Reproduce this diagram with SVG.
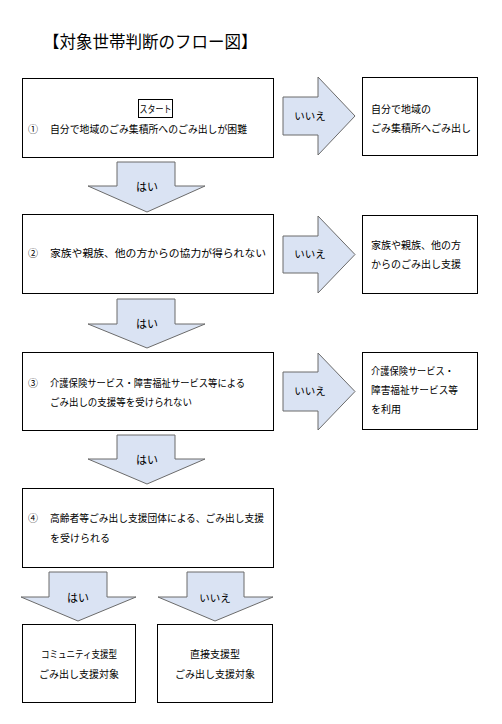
<svg xmlns="http://www.w3.org/2000/svg" width="502" height="724" viewBox="0 0 502 724">
<style>
text{font-family:"Noto Sans CJK JP","Noto Sans CJK SC",sans-serif;fill:#000;}
.t{font-size:10px;}
.c{text-anchor:middle;}
.title{font-size:16.5px;}
.box{fill:#fff;stroke:#000;stroke-width:1;}
.arr{fill:#dae3f3;stroke:#6b6b6b;stroke-width:1;}
.lab{font-size:11px;text-anchor:middle;}
.lab2{font-size:10.5px;text-anchor:middle;}
</style>
<rect width="502" height="724" fill="#fff"/>
<text class="title" x="43" y="48">【対象世帯判断のフロー図】</text>

<g id="connectors">
  <g id="arrow-no-1"><path class="arr" d="M283,97 H318 V77 L355,116 L318,155 V135 H283 Z"/><text class="lab2" x="310" y="120">いいえ</text></g>
  <g id="arrow-no-2"><path class="arr" d="M283,236 H318 V216 L355,254.5 L318,293 V273 H283 Z"/><text class="lab2" x="310" y="258">いいえ</text></g>
  <g id="arrow-no-3"><path class="arr" d="M283,372 H318 V353 L355,391.5 L318,430 V411 H283 Z"/><text class="lab2" x="310" y="395">いいえ</text></g>
  <g id="arrow-yes-1"><path class="arr" d="M117,162 H175 V186 H205 L147,212 L88,186 H117 Z"/><text class="lab" x="147" y="191">はい</text></g>
  <g id="arrow-yes-2"><path class="arr" d="M117,299 H175 V324 H205 L147,348 L88,324 H117 Z"/><text class="lab" x="147" y="328">はい</text></g>
  <g id="arrow-yes-3"><path class="arr" d="M117,435 H175 V459 H205 L147,484 L88,459 H117 Z"/><text class="lab" x="147" y="464">はい</text></g>
  <g id="arrow-yes-4"><path class="arr" d="M49,572 H107 V597 H136 L78,621 L21,597 H49 Z"/><text class="lab" x="78" y="602">はい</text></g>
  <g id="arrow-no-4"><path class="arr" d="M187,572 H244 V597 H273 L215,621 L158,597 H187 Z"/><text class="lab2" x="215" y="602">いいえ</text></g>
</g>

<g id="node-q1">
  <rect class="box" x="22.5" y="78.5" width="251" height="79"/>
  <rect class="box" x="138.5" y="99.5" width="34" height="18"/>
  <text class="t c" x="155.5" y="112.5" textLength="32" lengthAdjust="spacingAndGlyphs">スタート</text>
  <text class="t" x="28" y="133">①</text>
  <text class="t" x="50" y="133" textLength="197" lengthAdjust="spacingAndGlyphs">自分で地域のごみ集積所へのごみ出しが困難</text>
</g>
<g id="node-r1">
  <rect class="box" x="362.5" y="77.5" width="115" height="78"/>
  <text class="t" x="371" y="113">自分で地域の</text>
  <text class="t" x="371" y="132">ごみ集積所へごみ出し</text>
</g>

<g id="node-q2">
  <rect class="box" x="22.5" y="214.5" width="251" height="79"/>
  <text class="t" x="28" y="257">②</text>
  <text class="t" x="50" y="257" textLength="216" lengthAdjust="spacingAndGlyphs">家族や親族、他の方からの協力が得られない</text>
</g>
<g id="node-r2">
  <rect class="box" x="362.5" y="215.5" width="115" height="78"/>
  <text class="t" x="371" y="249">家族や親族、他の方</text>
  <text class="t" x="371" y="268">からのごみ出し支援</text>
</g>

<g id="node-q3">
  <rect class="box" x="22.5" y="352.5" width="251" height="78"/>
  <text class="t" x="28" y="387">③</text>
  <text class="t" x="50" y="387" textLength="195" lengthAdjust="spacingAndGlyphs">介護保険サービス・障害福祉サービス等による</text>
  <text class="t" x="50" y="406" textLength="142" lengthAdjust="spacingAndGlyphs">ごみ出しの支援等を受けられない</text>
</g>
<g id="node-r3">
  <rect class="box" x="362.5" y="352.5" width="115" height="77"/>
  <text class="t" x="371" y="375" textLength="83" lengthAdjust="spacingAndGlyphs">介護保険サービス・</text>
  <text class="t" x="371" y="394" textLength="87" lengthAdjust="spacingAndGlyphs">障害福祉サービス等</text>
  <text class="t" x="371" y="413">を利用</text>
</g>

<g id="node-q4">
  <rect class="box" x="22.5" y="488.5" width="251" height="79"/>
  <text class="t" x="28" y="522">④</text>
  <text class="t" x="50" y="522" textLength="214" lengthAdjust="spacingAndGlyphs">高齢者等ごみ出し支援団体による、ごみ出し支援</text>
  <text class="t" x="50" y="542">を受けられる</text>
</g>

<g id="node-community">
  <rect class="box" x="22.5" y="624.5" width="113" height="78"/>
  <text class="t c" x="79" y="658" textLength="76" lengthAdjust="spacingAndGlyphs">コミュニティ支援型</text>
  <text class="t c" x="79" y="678" textLength="80" lengthAdjust="spacingAndGlyphs">ごみ出し支援対象</text>
</g>
<g id="node-direct">
  <rect class="box" x="157.5" y="624.5" width="115" height="78"/>
  <text class="t c" x="215" y="658">直接支援型</text>
  <text class="t c" x="215" y="678" textLength="80" lengthAdjust="spacingAndGlyphs">ごみ出し支援対象</text>
</g>
</svg>
